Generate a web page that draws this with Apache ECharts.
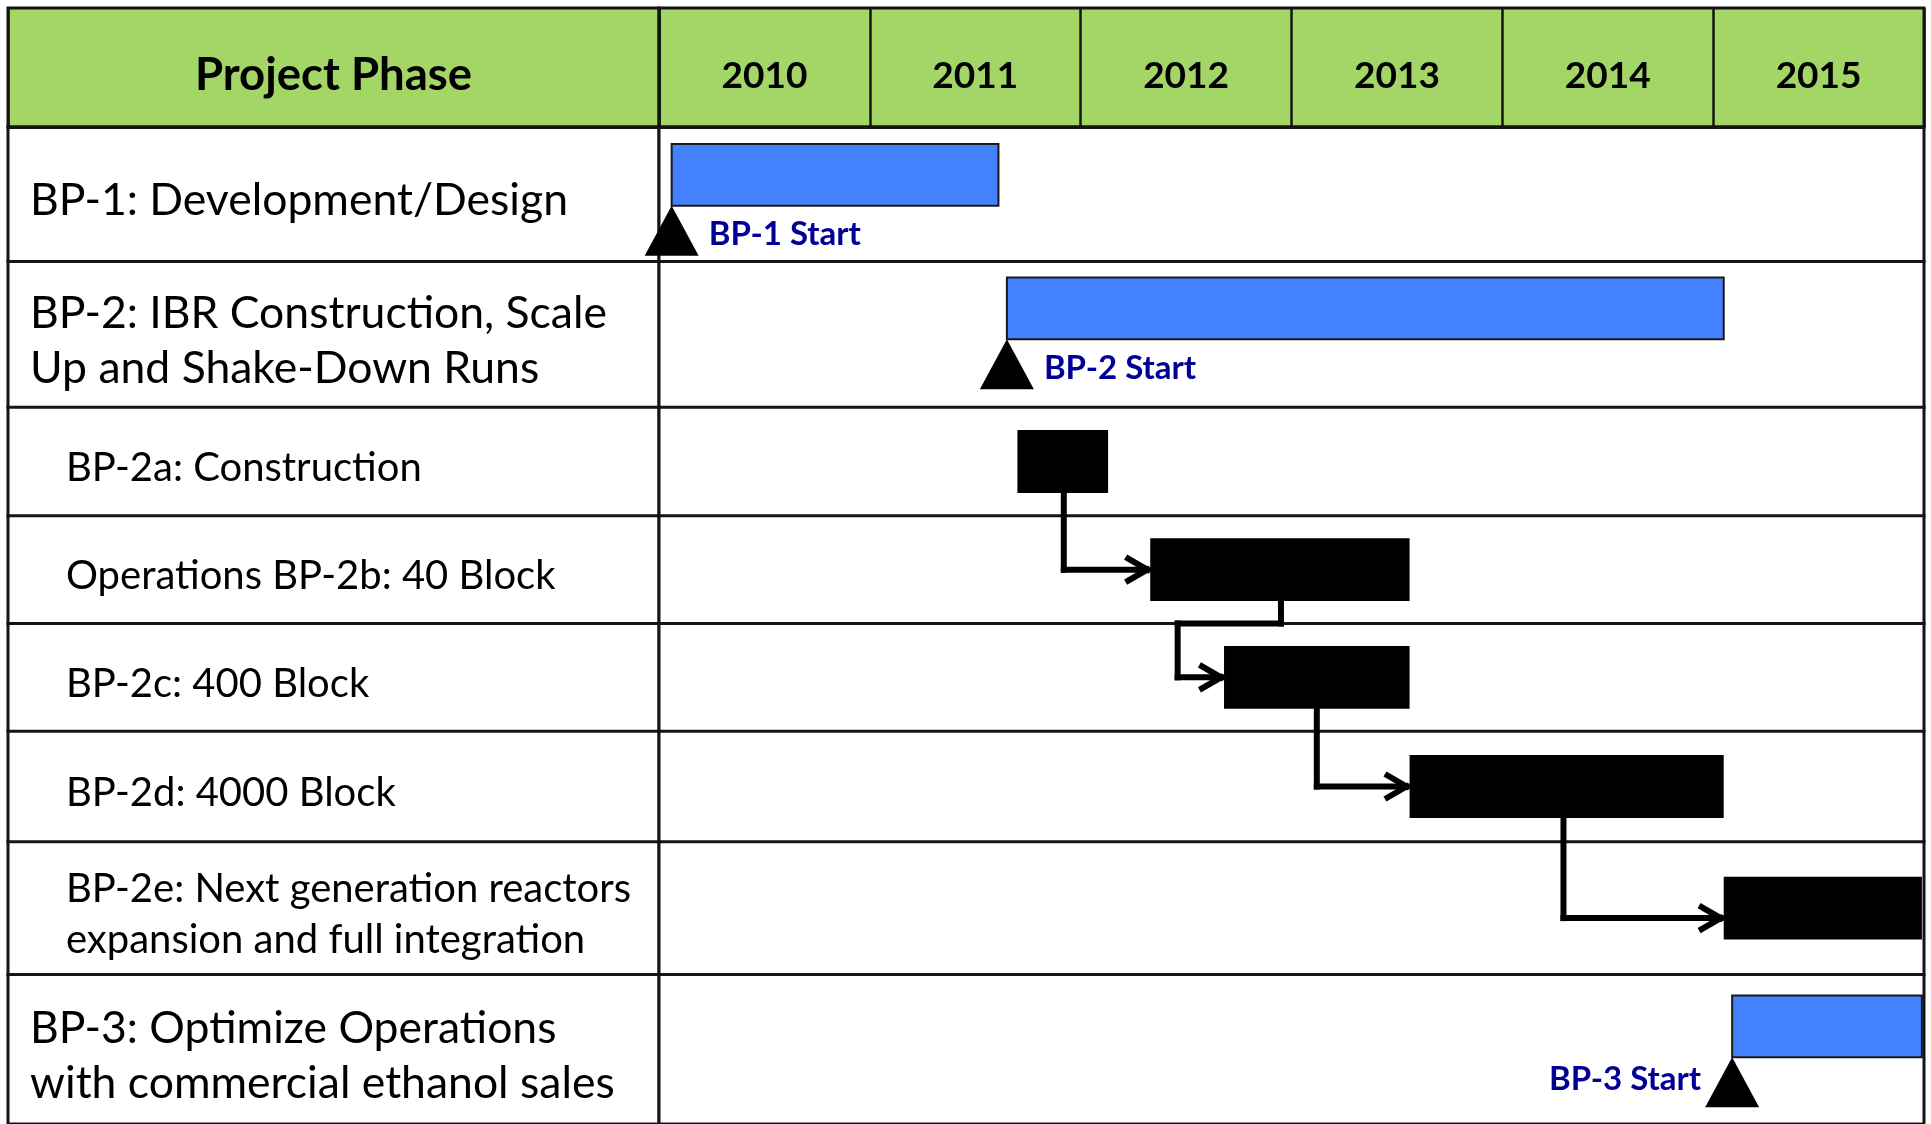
<!DOCTYPE html>
<html>
<head>
<meta charset="utf-8">
<title>Project Phase Gantt</title>
<script src="https://cdn.jsdelivr.net/npm/echarts@6/dist/echarts.min.js"></script>
<style>
html, body { margin: 0; padding: 0; background: #fff; }
#chart { width: 1931px; height: 1124px; }
</style>
</head>
<body>
<div id="chart"></div>
<script>
// header
var headerTitle = ['Project Phase'];
var years = ['2010', '2011', '2012', '2013', '2014', '2015'];

// rows of the table (level 1 = phase, 2 = sub task)
var rowLabels = [
  'BP-1: Development/Design',
  'BP-2: IBR Construction, Scale\nUp and Shake-Down Runs',
  'BP-2a: Construction',
  'Operations BP-2b: 40 Block',
  'BP-2c: 400 Block',
  'BP-2d: 4000 Block',
  'BP-2e: Next generation reactors\nexpansion and full integration',
  'BP-3: Optimize Operations\nwith commercial ethanol sales'
];
var rowLevel = [1, 1, 2, 2, 2, 2, 2, 1];

// bars, in fractional years
var taskStart = [2010.06, 2011.65, 2011.70, 2012.33, 2012.68, 2013.56, 2015.05, 2015.09];
var taskEnd = [2011.61, 2015.05, 2012.13, 2013.56, 2013.56, 2015.05, 2015.99, 2015.99];

// milestones
var milestoneName = ['BP-1 Start', 'BP-2 Start', 'BP-3 Start'];
var milestoneRow = [0, 1, 7];
var milestoneDate = [2010.06, 2011.65, 2015.09];

// dependencies (row index -> row index)
var linkFrom = [2, 3, 4, 5];
var linkTo = [3, 4, 5, 6];
var linkDrop = [2011.92, 2012.95, 2013.12, 2014.29];
var linkJog = [null, 2012.46, null, null];

// layout
var ROW_H = [135, 146, 109, 108, 108, 111, 133, 150];
var rowTop = [];
var acc = 0;
ROW_H.forEach(function (h) { rowTop.push(acc); acc += h; });
var BODY_H = acc;
var FONT = 'Lato';
var LINE = '#141414';
var BAR_PAD = { 0: 17, 1: 16, 7: 21 };   // gap above the blue phase bars
var ARROW_DY = { 6: 10 };
var LINK_W = 6;

function barBox (i) {
  if (rowLevel[i] === 1) {
    return [rowTop[i] + BAR_PAD[i], rowTop[i] + BAR_PAD[i] + 62];
  }
  var mid = rowTop[i] + ROW_H[i] / 2;
  return [mid - 31.5, mid + 31.5];
}

// a thick segment as a filled quad (square caps)
function thickSeg (p, q, w, color) {
  var dx = q[0] - p[0];
  var dy = q[1] - p[1];
  var len = Math.sqrt(dx * dx + dy * dy) || 1;
  var ux = dx / len * w / 2;
  var uy = dy / len * w / 2;
  var nx = -uy;
  var ny = ux;
  return {
    type: 'polygon',
    shape: {
      points: [
        [p[0] - ux + nx, p[1] - uy + ny],
        [q[0] + ux + nx, q[1] + uy + ny],
        [q[0] + ux - nx, q[1] + uy - ny],
        [p[0] - ux - nx, p[1] - uy - ny]
      ]
    },
    style: { fill: color || '#000' }
  };
}

function renderBar (params, api) {
  var i = api.value(2);
  var box = barBox(i);
  var p0 = api.coord([api.value(0), box[0]]);
  var p1 = api.coord([api.value(1), box[1]]);
  var style = rowLevel[i] === 1
    ? { fill: '#4381ff', stroke: '#1a1a1a', lineWidth: 2 }
    : { fill: '#000' };
  return {
    type: 'rect',
    shape: { x: p0[0], y: p0[1], width: p1[0] - p0[0], height: p1[1] - p0[1] },
    style: style
  };
}

function renderMilestone (params, api) {
  var k = params.dataIndex;
  var i = api.value(1);
  var apex = api.coord([api.value(0), barBox(i)[1]]);
  var cs = params.coordSys;
  var toLeft = apex[0] + 220 > cs.x + cs.width;
  return {
    type: 'group',
    children: [
      {
        type: 'polygon',
        shape: { points: [[apex[0], apex[1]], [apex[0] - 27, apex[1] + 50], [apex[0] + 27, apex[1] + 50]] },
        style: { fill: '#000' }
      },
      {
        type: 'text',
        x: toLeft ? apex[0] - 31 : apex[0] + 37,
        y: apex[1] + (toLeft ? 22 : 29),
        style: {
          text: milestoneName[k],
          fill: '#000096',
          font: 'bold 33px ' + FONT,
          align: toLeft ? 'right' : 'left',
          verticalAlign: 'middle'
        }
      }
    ]
  };
}

function renderLink (params, api) {
  var k = params.dataIndex;
  var a = linkFrom[k];
  var b = linkTo[k];
  var yFrom = barBox(a)[1];
  var yTo = rowTop[b] + ROW_H[b] / 2 + (ARROW_DY[b] || 0);
  var pts = [[linkDrop[k], yFrom]];
  if (linkJog[k] !== null) {
    pts.push([linkDrop[k], rowTop[b]]);
    pts.push([linkJog[k], rowTop[b]]);
    pts.push([linkJog[k], yTo]);
  } else {
    pts.push([linkDrop[k], yTo]);
  }
  pts.push([taskStart[b], yTo]);
  var px = pts.map(function (p) { return api.coord(p); });
  var tip = px[px.length - 1];
  tip = [tip[0] - 3, tip[1]];
  px[px.length - 1] = tip;
  var children = [];
  for (var s = 0; s < px.length - 1; s++) {
    children.push(thickSeg(px[s], px[s + 1], LINK_W));
  }
  children.push(thickSeg([tip[0] - 19, tip[1] - 11], tip, LINK_W));
  children.push(thickSeg([tip[0] - 19, tip[1] + 11], tip, LINK_W));
  return { type: 'group', children: children };
}

function renderRowLine (params, api) {
  var y = api.coord([0, api.value(0)])[1];
  var cs = params.coordSys;
  return thickSeg([cs.x, y], [cs.x + cs.width, y], 3, LINE);
}

function renderLabel (params, api) {
  var i = params.dataIndex;
  var cs = params.coordSys;
  var y = api.coord([0, rowTop[i] + ROW_H[i] / 2])[1];
  var top = rowLevel[i] === 1;
  return {
    type: 'text',
    x: cs.x + (top ? 22 : 58),
    y: y + 6.5,
    style: {
      text: rowLabels[i],
      fill: '#000',
      font: (top ? 44.5 : 40) + 'px ' + FONT,
      lineHeight: top ? 55 : 51,
      align: 'left',
      verticalAlign: 'middle'
    }
  };
}

var headerAxis = {
  type: 'category',
  position: 'top',
  axisLine: { show: true, lineStyle: { color: LINE, width: 3 } },
  axisTick: { show: false, interval: 0 },
  splitLine: { show: true, interval: 0, lineStyle: { color: LINE, width: 2.5 } },
  axisLabel: {
    inside: true,
    interval: 0,
    verticalAlign: 'middle',
    color: '#000',
    fontFamily: FONT,
    fontWeight: 'bold'
  }
};

var gridBase = { show: true, borderColor: LINE, borderWidth: 3, containLabel: false };
var rowIdx = rowTop.map(function (t, i) { return [i]; });

var myChart = echarts.init(document.getElementById('chart'), null, { renderer: 'canvas' });
myChart.setOption({
  backgroundColor: '#fff',
  animation: false,
  grid: [
    Object.assign({ left: 8, top: 8, width: 651, height: 119, backgroundColor: '#a3d567' }, gridBase),
    Object.assign({ left: 659, top: 8, width: 1265, height: 119, backgroundColor: '#a3d567' }, gridBase),
    Object.assign({ left: 8, top: 127, width: 651, height: BODY_H, backgroundColor: '#fff' }, gridBase),
    Object.assign({ left: 659, top: 127, width: 1265, height: BODY_H, backgroundColor: '#fff' }, gridBase)
  ],
  xAxis: [
    Object.assign({}, headerAxis, {
      gridIndex: 0,
      data: headerTitle,
      axisLabel: Object.assign({}, headerAxis.axisLabel, { fontSize: 45.5, margin: 67 })
    }),
    Object.assign({}, headerAxis, {
      gridIndex: 1,
      data: years,
      axisLabel: Object.assign({}, headerAxis.axisLabel, { fontSize: 37, margin: 68.5 })
    }),
    { type: 'value', gridIndex: 2, min: 0, max: 1, show: false },
    { type: 'value', gridIndex: 3, min: 2010, max: 2016, show: false }
  ],
  yAxis: [
    { type: 'value', gridIndex: 0, show: false },
    { type: 'value', gridIndex: 1, show: false },
    { type: 'value', gridIndex: 2, min: 0, max: BODY_H, inverse: true, show: false },
    { type: 'value', gridIndex: 3, min: 0, max: BODY_H, inverse: true, show: false }
  ],
  series: [
    // row separators
    {
      type: 'custom', xAxisIndex: 2, yAxisIndex: 2,
      data: rowTop.slice(1).map(function (t) { return [t]; }),
      encode: { y: 0 },
      renderItem: renderRowLine, silent: true, z: 1
    },
    {
      type: 'custom', xAxisIndex: 3, yAxisIndex: 3,
      data: rowTop.slice(1).map(function (t) { return [t]; }),
      encode: { y: 0 },
      renderItem: renderRowLine, silent: true, z: 1
    },
    // row labels
    {
      type: 'custom', xAxisIndex: 2, yAxisIndex: 2,
      data: rowIdx,
      encode: { y: 0 },
      renderItem: renderLabel, silent: true, z: 3
    },
    // task bars
    {
      type: 'custom', name: 'tasks', xAxisIndex: 3, yAxisIndex: 3,
      data: taskStart.map(function (s, i) { return [s, taskEnd[i], i]; }),
      encode: { x: [0, 1], y: 2 },
      renderItem: renderBar, z: 4
    },
    // dependency arrows
    {
      type: 'custom', name: 'links', xAxisIndex: 3, yAxisIndex: 3,
      data: linkFrom.map(function (f, k) { return [linkDrop[k], f]; }),
      encode: { x: 0, y: 1 },
      renderItem: renderLink, silent: true, z: 3
    },
    // milestones
    {
      type: 'custom', name: 'milestones', xAxisIndex: 3, yAxisIndex: 3,
      data: milestoneDate.map(function (d, k) { return [d, milestoneRow[k]]; }),
      encode: { x: 0, y: 1 },
      renderItem: renderMilestone, z: 5
    }
  ]
});
</script>
</body>
</html>
